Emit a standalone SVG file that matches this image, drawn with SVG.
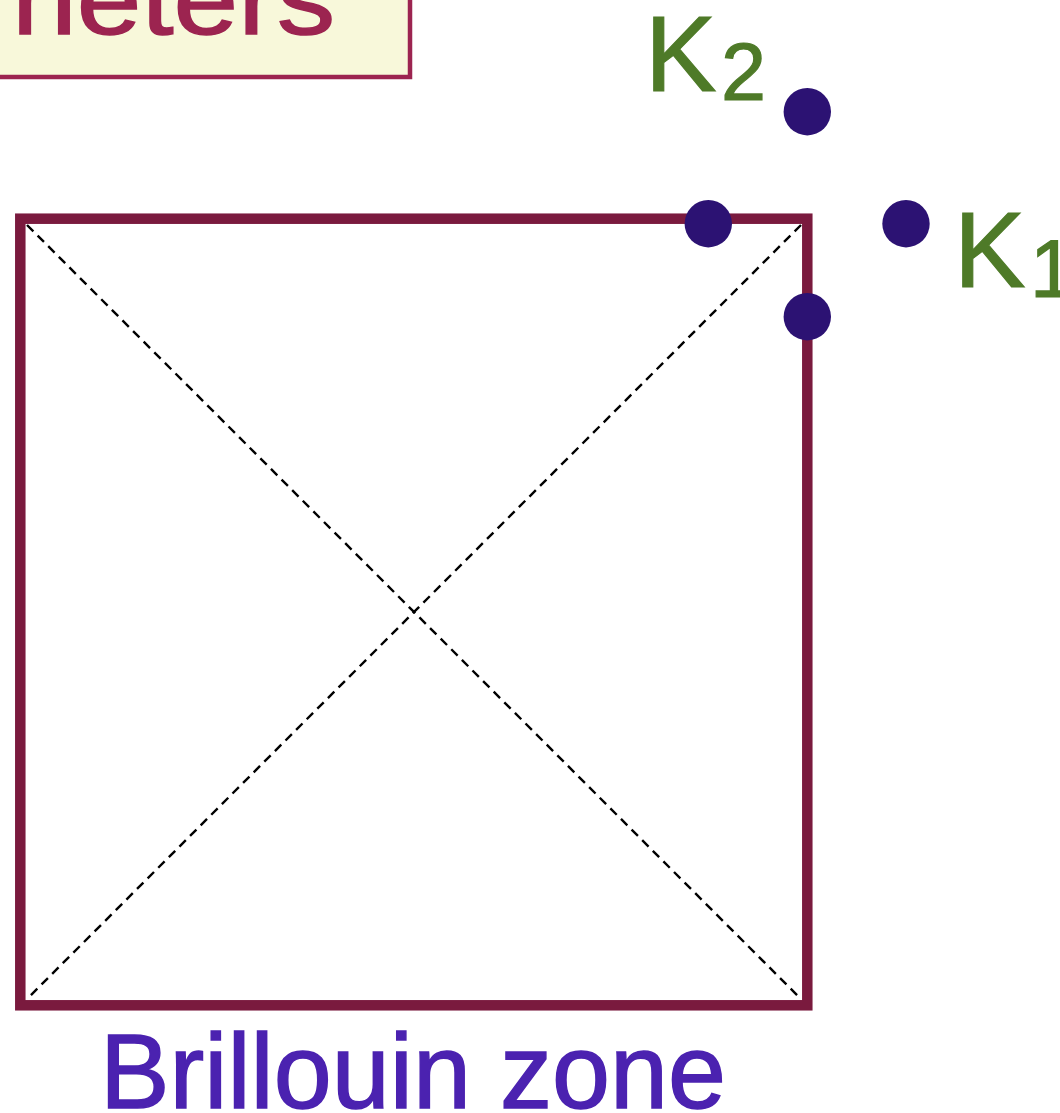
<svg xmlns="http://www.w3.org/2000/svg" width="1060" height="1113" viewBox="0 0 1060 1113">
  <style>
    .title { font-family: "Liberation Sans", Arial, sans-serif; fill: #9C2450; stroke: #9C2450; stroke-width: 1.5; }
    .klabel { font-family: "Liberation Sans", Arial, sans-serif; fill: #4E7A28; stroke: #4E7A28; stroke-width: 1.2; }
    .caption { font-family: "Liberation Sans", Arial, sans-serif; fill: #4B22B0; stroke: #4B22B0; stroke-width: 1.5; }
    .dot { fill: #2C1273; }
    .diag { stroke: #000000; stroke-width: 2.4; stroke-dasharray: 9 6; fill: none; }
  </style>
  <rect width="1060" height="1113" fill="#FFFFFF"/>
  <g id="title-box">
    <rect x="-10" y="-10" width="420" height="87" fill="#F8F8DA" stroke="#9C2450" stroke-width="4.5"/>
    <text class="title" x="12" y="34" font-size="100" textLength="323" lengthAdjust="spacingAndGlyphs">neters</text>
  </g>
  <g id="brillouin-zone">
    <rect x="20.3" y="218.7" width="787" height="786.6" fill="none" stroke="#7A1A3E" stroke-width="10.5"/>
  </g>
  <g id="connectors">
    <line class="diag" x1="27" y1="225" x2="801" y2="999"/>
    <line class="diag" x1="801" y1="225" x2="27" y2="999"/>
  </g>
  <g id="k-point-top-edge"><circle class="dot" cx="708.3" cy="223.7" r="23.7"/></g>
  <g id="k-point-right-edge"><circle class="dot" cx="807.3" cy="316.7" r="23.7"/></g>
  <g id="k2-point">
    <circle class="dot" cx="807.3" cy="111.7" r="23.7"/>
    <text class="klabel" x="645" y="90.7" font-size="107">K</text>
    <text class="klabel" x="721" y="100" font-size="81">2</text>
  </g>
  <g id="k1-point">
    <circle class="dot" cx="906" cy="223.7" r="23.7"/>
    <text class="klabel" x="954" y="287.3" font-size="107">K</text>
    <text class="klabel" x="1030" y="297" font-size="81">1</text>
  </g>
  <g id="caption">
    <text class="caption" x="100" y="1108" font-size="106" textLength="626" lengthAdjust="spacingAndGlyphs">Brillouin zone</text>
  </g>
</svg>
